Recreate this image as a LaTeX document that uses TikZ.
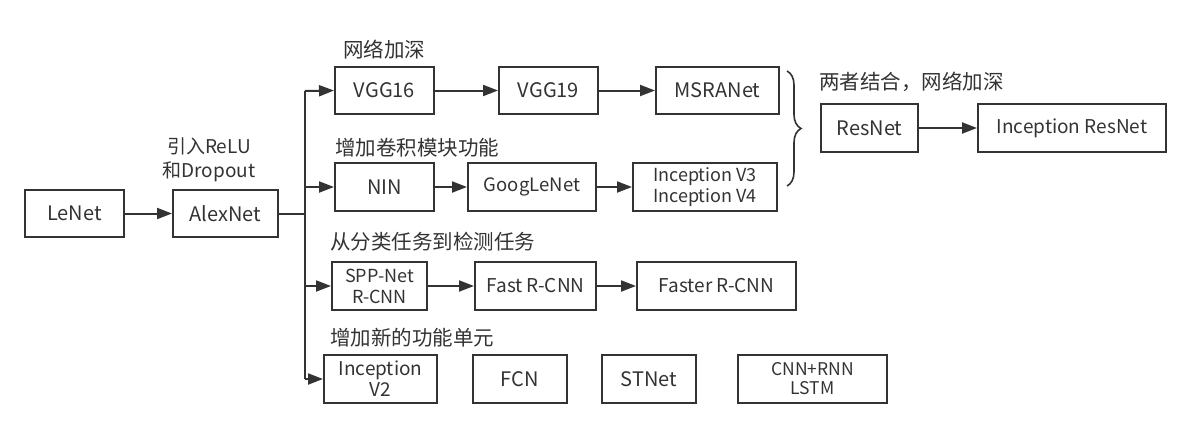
\documentclass[tikz,border=0pt]{standalone}
\usepackage{fontspec}
\setmainfont{Noto Sans CJK SC}
\usetikzlibrary{arrows.meta,decorations.pathreplacing}
\definecolor{ink}{HTML}{333333}
\begin{document}
\begin{tikzpicture}[x=1pt,y=-1pt,
  box/.style={draw=ink,line width=2pt,text=ink,inner sep=0pt,align=center,font=\fontsize{20}{22}\selectfont},
  lbl/.style={text=ink,anchor=west,inner sep=0pt,font=\fontsize{20.5}{24}\selectfont},
  conn/.style={draw=ink,line width=2pt},
  arr/.style={conn,-{Triangle[length=15pt,width=11pt]}}]
\useasboundingbox (0,0) rectangle (1191,428);
% nodes
\node[box,minimum width=99pt,minimum height=47pt] (lenet) at (74.5,213.5) {LeNet};
\node[box,minimum width=105pt,minimum height=47pt] (alex) at (225.5,213.5) {AlexNet};
\node[text=ink,align=center,inner sep=0pt,font=\fontsize{19}{24}\selectfont] (alexlbl) at (209,160) {引入ReLU\\和Dropout};

\node[box,minimum width=99pt,minimum height=47pt] (vgg16) at (384.5,90.5) {VGG16};
\node[box,minimum width=99pt,minimum height=47pt] (vgg19) at (548.5,90.5) {VGG19};
\node[box,minimum width=123pt,minimum height=47pt] (msra) at (717.5,90.5) {MSRANet};
\node[lbl] (l1) at (343,50) {网络加深};

\node[box,minimum width=99pt,minimum height=48pt] (nin) at (384.5,187) {NIN};
\node[box,minimum width=128pt,minimum height=48pt,font=\fontsize{18.5}{22}\selectfont] (goog) at (532,187) {GoogLeNet};
\node[box,minimum width=144pt,minimum height=48pt,font=\fontsize{18}{21}\selectfont] (incv3) at (705,187) {Inception V3\\Inception V4};
\node[lbl] (l2) at (335,148) {增加卷积模块功能};

\node[box,minimum width=97pt,minimum height=48pt] (resnet) at (869.5,128) {ResNet};
\node[box,minimum width=188pt,minimum height=48pt,font=\fontsize{19}{22}\selectfont] (incres) at (1072,128) {Inception ResNet};
\node[lbl] (l3) at (819,82) {两者结合，网络加深};

\node[box,minimum width=95pt,minimum height=48pt,font=\fontsize{18}{21}\selectfont] (spp) at (379.5,286) {SPP-Net\\R-CNN};
\node[box,minimum width=121pt,minimum height=48pt,font=\fontsize{19}{22}\selectfont] (fast) at (535.5,286) {Fast R-CNN};
\node[box,minimum width=159pt,minimum height=48pt,font=\fontsize{19}{22}\selectfont] (faster) at (716.5,286) {Faster R-CNN};
\node[lbl] (l4) at (330,242) {从分类任务到检测任务};

\node[box,minimum width=113pt,minimum height=48pt,font=\fontsize{19}{21}\selectfont] (incv2) at (380.5,379) {Inception\\V2};
\node[box,minimum width=94pt,minimum height=48pt] (fcn) at (520,379) {FCN};
\node[box,minimum width=94pt,minimum height=48pt] (stnet) at (649,379) {STNet};
\node[box,minimum width=149pt,minimum height=48pt,font=\fontsize{17.5}{19}\selectfont] (cnnrnn) at (812.5,379) {CNN+RNN\\LSTM};
\node[lbl] (l5) at (330,338) {增加新的功能单元};

% trunk coordinates
\coordinate (tA) at (305,213.5);
\coordinate (t1) at (305,91);
\coordinate (t2) at (305,187);
\coordinate (t3) at (305,286);
\coordinate (t4) at (305,379);

% connectors
\draw[arr] (lenet) -- (alex);
\draw[conn] (alex.east) -- (tA);
\draw[conn] (t1) -- (t4);
\draw[arr] (t1) -- (vgg16.west);
\draw[arr] (t2) -- (nin.west);
\draw[arr] (t3) -- (spp.west);
\draw[arr] (t4) -- (incv2.west);
\draw[arr] (vgg16) -- (vgg19);
\draw[arr] (vgg19) -- (msra);
\draw[arr] (nin) -- (goog);
\draw[arr] (goog) -- (incv3);
\draw[arr] (spp) -- (fast);
\draw[arr] (fast) -- (faster);
\draw[arr] (resnet) -- (incres);

% brace
\draw[draw=ink,line width=1.6pt,decorate,decoration={brace,amplitude=14pt}] (787,71) -- (787,186);
\end{tikzpicture}
\end{document}
